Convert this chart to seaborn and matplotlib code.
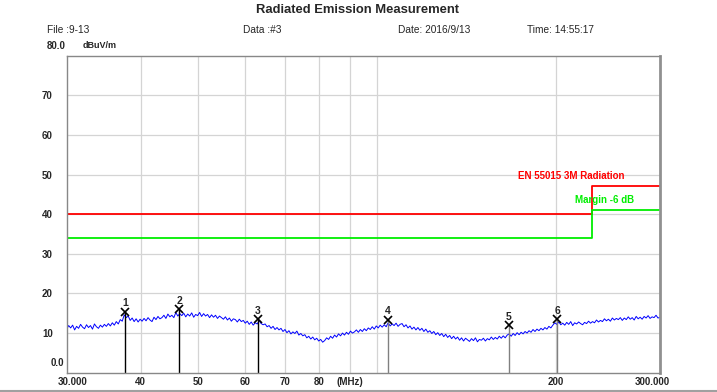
import matplotlib
matplotlib.use("Agg")
import matplotlib.pyplot as plt
from matplotlib.lines import Line2D
import numpy as np
import pandas as pd
import seaborn as sns

# sweep levels (dBuV/m), 30 -> 300 MHz on a log grid
levels = [
    11.0, 11.9, 11.3, 12.0, 10.8, 11.7, 11.2, 12.2, 11.5, 11.1,
    12.1, 11.4, 11.9, 11.0, 12.3, 11.6, 11.2, 12.0, 11.5, 12.2,
    11.7, 12.4, 11.8, 12.6, 12.0, 12.9, 12.3, 13.4, 13.0, 14.6,
    13.9, 14.3, 13.2, 13.8, 12.9, 13.6, 12.8, 13.5, 13.0, 13.7,
    13.1, 13.9, 13.3, 12.9, 14.0, 13.4, 14.2, 13.6, 13.9, 14.5,
    13.7, 14.8, 14.1, 14.5, 13.9, 15.2, 14.3, 14.9, 14.4, 15.0,
    14.1, 14.8, 14.3, 15.1, 14.0, 14.7, 14.4, 15.2, 14.2, 14.9,
    14.3, 14.7, 13.9, 14.6, 14.0, 14.5, 13.7, 14.3, 13.9, 13.5,
    14.1, 13.3, 13.8, 13.0, 13.6, 13.4, 12.8, 13.5, 12.9, 13.2,
    12.5, 13.0, 12.2, 12.8, 12.0, 12.6, 12.3, 13.1, 12.4, 12.1,
    12.3, 11.6, 11.9, 11.2, 11.7, 10.9, 11.4, 10.8, 11.2, 10.4,
    10.9, 10.1, 10.6, 9.8, 10.3, 9.9, 10.5, 9.5, 9.9, 9.3,
    9.6, 8.8, 9.2, 8.5, 9.0, 8.3, 8.7, 8.0, 8.4, 7.7,
    8.1, 8.8, 8.4, 9.2, 8.7, 9.5, 9.0, 9.8, 9.3, 10.0,
    9.5, 10.2, 9.7, 10.5, 10.0, 10.3, 10.8, 10.2, 10.9, 10.4,
    11.1, 10.6, 11.3, 10.9, 11.6, 11.0, 11.8, 11.3, 12.0, 11.5,
    12.1, 11.6, 12.6, 11.8, 12.3, 11.9, 12.5, 11.7, 12.2, 12.4,
    11.6, 12.1, 11.3, 11.8, 11.0, 11.5, 10.8, 11.4, 10.7, 11.2,
    10.4, 11.0, 10.2, 10.6, 9.9, 10.4, 9.6, 10.1, 9.4, 9.9,
    9.1, 9.7, 8.9, 9.4, 8.6, 9.2, 8.5, 9.0, 8.2, 8.8,
    8.0, 8.7, 8.3, 7.9, 8.6, 8.1, 8.8, 7.8, 8.4, 8.2,
    8.7, 8.0, 8.6, 8.3, 9.0, 8.4, 8.9, 8.5, 9.2, 8.7,
    9.3, 8.8, 9.5, 9.8, 9.2, 9.9, 9.4, 10.1, 9.6, 10.2,
    9.8, 10.4, 10.0, 10.6, 10.2, 10.9, 10.4, 11.0, 10.6, 11.2,
    10.8, 11.4, 11.0, 11.7, 11.3, 12.0, 12.6, 12.2, 12.8, 12.1,
    12.5, 12.0, 12.7, 12.2, 12.9, 11.9, 12.6, 12.3, 12.8, 12.4,
    12.1, 12.7, 12.4, 13.0, 12.5, 12.9, 12.6, 13.3, 12.8, 13.2,
    12.9, 13.6, 13.1, 13.5, 13.0, 13.8, 13.3, 13.7, 13.4, 13.9,
    13.2, 13.8, 13.4, 14.1, 13.5, 13.9, 13.3, 14.2, 13.6, 14.0,
    13.5, 14.2, 13.8, 14.4, 13.7, 14.1, 13.9, 14.5, 13.8, 14.0,
]
freqs = np.geomspace(30, 300, len(levels))

# limit line and margin (steps)
limit_freq = [30, 230, 300]
limit_level = [40, 47, 47]
margin_level = [34, 41, 41]

# marker peaks
marker_no = ['1', '2', '3', '4', '5', '6']
marker_freq = [37.6, 46.4, 63.0, 104.3, 167.0, 201.5]
marker_level = [15.4, 16.0, 13.5, 13.3, 12.0, 13.5]

tick_freq = [40, 50, 60, 70, 80, 90, 100, 200]
tick_text = ['40', '50', '60', '70', '80', '(MHz)', '', '200']
ytick_vals = [10, 20, 30, 40, 50, 60, 70]

sns.set_style('white')
plt.rcParams['font.family'] = ['Liberation Sans', 'DejaVu Sans']

fig = plt.figure(figsize=(7.17, 3.92), dpi=100)
ax = fig.add_axes([0.093, 0.0492, 0.8275, 0.8088])

df = pd.DataFrame({'freq': freqs, 'level': levels})
sns.lineplot(data=df, x='freq', y='level', ax=ax, color='#0000ff', lw=0.7)

lim = pd.DataFrame({'freq': limit_freq, 'limit': limit_level, 'margin': margin_level})
ax.step(lim['freq'], lim['limit'], where='post', color='#ff0000', lw=1.3)
ax.step(lim['freq'], lim['margin'], where='post', color='#00ee00', lw=1.3)

for i, (n, f, v) in enumerate(zip(marker_no, marker_freq, marker_level)):
    lc = 'black' if i < 3 else '#808080'
    ax.plot([f, f], [0, v], color=lc, lw=1.0)
    ax.plot([f], [v], marker='x', ms=5.5, mew=1.2, color='black', ls='none')
    ax.text(f, v + 0.9, n, ha='center', va='bottom', fontsize=7.5, fontweight='bold')

ax.set_xscale('log')
ax.set_xlim(30, 300)
ax.set_ylim(0, 80)
ax.set_xticks(tick_freq)
ax.set_xticklabels(tick_text, fontsize=7, fontweight='bold')
ax.xaxis.set_minor_locator(matplotlib.ticker.NullLocator())
ax.set_yticks(ytick_vals)
ax.set_yticklabels([str(v) for v in ytick_vals], fontsize=7, fontweight='bold')
ax.tick_params(length=0, pad=3)
ax.tick_params(axis='y', pad=10)
ax.grid(True, color='#d4d4d4', lw=0.9)
ax.set_xlabel('')
ax.set_ylabel('')

for s in ['left', 'bottom', 'top']:
    ax.spines[s].set_color('#888888')
    ax.spines[s].set_linewidth(1.0)
ax.spines['right'].set_color('#909090')
ax.spines['right'].set_linewidth(2.0)

# edge tick labels
ax.text(0.01, -0.012, '30.000', transform=ax.transAxes, ha='center', va='top',
        fontsize=7, fontweight='bold')
ax.text(0.987, -0.012, '300.000', transform=ax.transAxes, ha='center', va='top',
        fontsize=7, fontweight='bold')
ax.text(-0.005, 0.03, '0.0', transform=ax.transAxes, ha='right', va='center',
        fontsize=7, fontweight='bold')

ax.text(173, 49.6, 'EN 55015 3M Radiation', color='#ff0000', fontsize=7,
        fontweight='bold', va='center', ha='left')
ax.text(216, 43.5, 'Margin -6 dB', color='#00ee00', fontsize=7,
        fontweight='bold', va='center', ha='left')

# header
fig.text(358 / 717, 1 - 10 / 392, 'Radiated Emission Measurement', ha='center',
         va='center', fontsize=9.4, fontweight='bold')
fig.text(47 / 717, 1 - 30 / 392, 'File :9-13', ha='left', va='center', fontsize=7.3)
fig.text(243 / 717, 1 - 30 / 392, 'Data :#3', ha='left', va='center', fontsize=7.3)
fig.text(398 / 717, 1 - 30 / 392, 'Date: 2016/9/13', ha='left', va='center', fontsize=7.3)
fig.text(527 / 717, 1 - 30 / 392, 'Time: 14:55:17', ha='left', va='center', fontsize=7.3)
fig.text(47 / 717, 1 - 46 / 392, '80.0', ha='left', va='center', fontsize=7,
         fontweight='bold')
fig.text(83 / 717, 1 - 46 / 392, 'dBuV/m', ha='left', va='center', fontsize=6.5,
         fontweight='bold')

fig.add_artist(Line2D([0, 1], [1.5 / 392, 1.5 / 392], transform=fig.transFigure,
                      color='#a0a0a0', lw=1.5))

fig.savefig('out.png', dpi=100, facecolor='white')
